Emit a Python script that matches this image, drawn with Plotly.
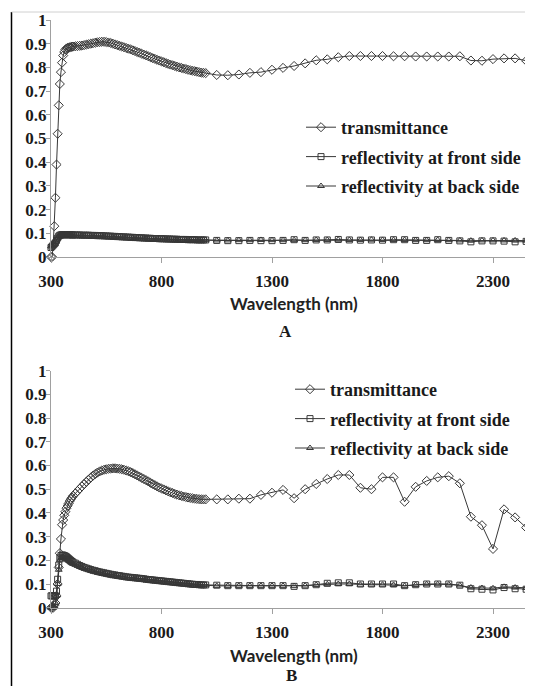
import plotly.graph_objects as go

# ---------------- data ----------------
# wavelength grid (nm): dense UV-Vis part then NIR part every 50 nm
wavelength = list(range(300, 401, 5)) + list(range(410, 1000, 10)) + list(range(1000, 2501, 50))

# Panel A
trans_A = [
    0.00, 0.00, 0.05, 0.13, 0.25, 0.39, 0.52, 0.64, 0.73, 0.78, 0.82, 0.85, 0.865, 0.875, 0.88, 0.882, 0.884, 0.885, 0.886, 0.887, 0.888,
    0.889, 0.890, 0.891, 0.892, 0.894, 0.896, 0.898, 0.900, 0.902, 0.904, 0.906, 0.907, 0.908, 0.908, 0.907, 0.905, 0.903, 0.900, 0.897, 0.894,
    0.891, 0.888, 0.885, 0.882, 0.879, 0.876, 0.872, 0.869, 0.865, 0.862, 0.858, 0.854, 0.851, 0.847, 0.843, 0.839, 0.836, 0.832, 0.829, 0.825,
    0.822, 0.818, 0.815, 0.812, 0.809, 0.806, 0.803, 0.800, 0.798, 0.795, 0.793, 0.790, 0.788, 0.786, 0.784, 0.782, 0.780, 0.778, 0.777,
    0.776, 0.768, 0.767, 0.770, 0.777, 0.780, 0.790, 0.798, 0.806, 0.817, 0.830, 0.834, 0.843, 0.848, 0.848, 0.848, 0.848, 0.847, 0.847, 0.846,
    0.846, 0.846, 0.846, 0.847, 0.829, 0.828, 0.835, 0.838, 0.838, 0.828, 0.825,
]
front_A = [
    0.040, 0.045, 0.050, 0.055, 0.060, 0.070, 0.080, 0.088, 0.092, 0.093, 0.094, 0.094, 0.094, 0.094, 0.094, 0.094, 0.094, 0.094, 0.094, 0.093, 0.093,
    0.093, 0.093, 0.093, 0.092, 0.092, 0.092, 0.092, 0.091, 0.091, 0.091, 0.090, 0.090, 0.090, 0.089, 0.089, 0.088, 0.088, 0.087, 0.087, 0.086,
    0.086, 0.085, 0.085, 0.084, 0.084, 0.083, 0.083, 0.082, 0.082, 0.081, 0.081, 0.080, 0.080, 0.079, 0.079, 0.078, 0.078, 0.078, 0.077, 0.077,
    0.077, 0.076, 0.076, 0.076, 0.075, 0.075, 0.075, 0.074, 0.074, 0.074, 0.074, 0.073, 0.073, 0.073, 0.073, 0.072, 0.072, 0.072, 0.072,
    0.072, 0.070, 0.069, 0.069, 0.070, 0.069, 0.069, 0.070, 0.073, 0.070, 0.072, 0.072, 0.074, 0.072, 0.071, 0.072, 0.071, 0.073, 0.073, 0.070,
    0.070, 0.073, 0.070, 0.068, 0.064, 0.068, 0.068, 0.067, 0.064, 0.066, 0.066,
]
back_A = [
    0.045, 0.048, 0.052, 0.058, 0.065, 0.074, 0.082, 0.088, 0.090, 0.091, 0.091, 0.091, 0.091, 0.091, 0.091, 0.091, 0.091, 0.091, 0.091, 0.090, 0.090,
    0.090, 0.090, 0.090, 0.089, 0.089, 0.089, 0.089, 0.088, 0.088, 0.088, 0.087, 0.087, 0.087, 0.086, 0.086, 0.085, 0.085, 0.084, 0.084, 0.083,
    0.083, 0.082, 0.082, 0.081, 0.081, 0.080, 0.080, 0.079, 0.079, 0.078, 0.078, 0.077, 0.077, 0.076, 0.076, 0.075, 0.075, 0.075, 0.074, 0.074,
    0.074, 0.073, 0.073, 0.073, 0.073, 0.072, 0.072, 0.072, 0.072, 0.071, 0.071, 0.071, 0.071, 0.071, 0.071, 0.071, 0.071, 0.071, 0.071,
    0.071, 0.070, 0.070, 0.071, 0.071, 0.072, 0.071, 0.071, 0.071, 0.071, 0.072, 0.072, 0.073, 0.072, 0.072, 0.073, 0.072, 0.072, 0.072, 0.071,
    0.071, 0.072, 0.071, 0.070, 0.069, 0.070, 0.070, 0.070, 0.070, 0.069, 0.068,
]

# Panel B
trans_B = [
    0.00, 0.00, 0.00, 0.01, 0.02, 0.05, 0.10, 0.17, 0.23, 0.29, 0.35, 0.37, 0.39, 0.405, 0.42, 0.43, 0.44, 0.45, 0.458, 0.465, 0.472,
    0.482, 0.492, 0.502, 0.512, 0.522, 0.531, 0.540, 0.549, 0.557, 0.564, 0.570, 0.575, 0.579, 0.582, 0.584, 0.586, 0.587, 0.588, 0.588, 0.587,
    0.586, 0.584, 0.582, 0.579, 0.576, 0.572, 0.568, 0.563, 0.558, 0.553, 0.548, 0.543, 0.538, 0.533, 0.527, 0.522, 0.517, 0.512, 0.507, 0.503,
    0.499, 0.495, 0.491, 0.487, 0.484, 0.480, 0.477, 0.474, 0.472, 0.469, 0.467, 0.465, 0.463, 0.462, 0.460, 0.459, 0.458, 0.457, 0.457,
    0.457, 0.457, 0.457, 0.460, 0.460, 0.476, 0.485, 0.497, 0.462, 0.500, 0.522, 0.543, 0.560, 0.560, 0.506, 0.500, 0.550, 0.550, 0.447, 0.510,
    0.535, 0.550, 0.555, 0.525, 0.384, 0.348, 0.248, 0.415, 0.381, 0.338, 0.310,
]
front_B = [
    0.050, 0.050, 0.050, 0.050, 0.050, 0.070, 0.120, 0.180, 0.210, 0.220, 0.222, 0.222, 0.220, 0.218, 0.215, 0.211, 0.207, 0.203, 0.199, 0.195, 0.192,
    0.188, 0.183, 0.178, 0.174, 0.170, 0.167, 0.164, 0.161, 0.158, 0.156, 0.153, 0.151, 0.149, 0.147, 0.145, 0.143, 0.141, 0.139, 0.138, 0.136,
    0.135, 0.133, 0.132, 0.130, 0.129, 0.128, 0.127, 0.126, 0.125, 0.124, 0.123, 0.122, 0.120, 0.119, 0.118, 0.117, 0.116, 0.115, 0.114, 0.113,
    0.112, 0.111, 0.110, 0.109, 0.108, 0.107, 0.106, 0.105, 0.104, 0.103, 0.102, 0.101, 0.100, 0.099, 0.098, 0.098, 0.097, 0.096, 0.096,
    0.096, 0.095, 0.093, 0.093, 0.093, 0.093, 0.093, 0.093, 0.090, 0.093, 0.097, 0.103, 0.105, 0.105, 0.100, 0.100, 0.100, 0.100, 0.093, 0.097,
    0.100, 0.100, 0.100, 0.095, 0.080, 0.078, 0.075, 0.085, 0.080, 0.078, 0.078,
]
back_B = [
    0.000, 0.000, 0.000, 0.005, 0.020, 0.050, 0.100, 0.160, 0.200, 0.210, 0.212, 0.212, 0.210, 0.208, 0.205, 0.202, 0.198, 0.195, 0.191, 0.188, 0.185,
    0.181, 0.177, 0.173, 0.169, 0.166, 0.163, 0.160, 0.157, 0.154, 0.152, 0.149, 0.147, 0.145, 0.143, 0.141, 0.139, 0.137, 0.136, 0.134, 0.133,
    0.131, 0.130, 0.129, 0.127, 0.126, 0.125, 0.124, 0.123, 0.122, 0.121, 0.120, 0.119, 0.118, 0.117, 0.116, 0.115, 0.114, 0.113, 0.112, 0.111,
    0.110, 0.109, 0.108, 0.107, 0.106, 0.105, 0.104, 0.104, 0.103, 0.102, 0.101, 0.100, 0.099, 0.098, 0.098, 0.097, 0.096, 0.096, 0.095,
    0.095, 0.092, 0.092, 0.092, 0.092, 0.092, 0.092, 0.092, 0.091, 0.093, 0.096, 0.099, 0.100, 0.100, 0.097, 0.097, 0.097, 0.096, 0.092, 0.096,
    0.099, 0.099, 0.098, 0.094, 0.085, 0.083, 0.082, 0.088, 0.085, 0.083, 0.082,
]

series_names = ["transmittance", "reflectivity at front side", "reflectivity at back side"]
symbols = ["diamond-open", "square-open", "triangle-up-open"]
marker_sizes = [7, 6, 6]
x_ticks = [300, 800, 1300, 1800, 2300]

# ---------------- figure ----------------
PAGE_W, PAGE_H = 533, 686
OFF = 8                      # default body margin of the html page
W, H = PAGE_W - OFF, PAGE_H - OFF

def px(x):                   # page pixel -> paper fraction
    return (x - OFF) / W
def py(y):
    return 1 - (y - OFF) / H

ink = "#383838"
fig = go.Figure()

panels = [
    ("x", "y", "legend", "a", [trans_A, front_A, back_A]),
    ("x2", "y2", "legend2", "b", [trans_B, front_B, back_B]),
]
for xa, ya, leg, tag, data in panels:
    for i, (name, vals) in enumerate(zip(series_names, data)):
        fig.add_trace(go.Scatter(
            x=wavelength, y=vals, name=name, mode="lines+markers",
            xaxis=xa, yaxis=ya, legend=leg, legendgroup=f"{tag}{i}",
            line=dict(color=ink, width=1),
            marker=dict(symbol=symbols[i], size=marker_sizes[i], color=ink,
                        line=dict(color=ink, width=1)),
            cliponaxis=False,
        ))

tick_font = dict(family="Liberation Serif", size=17, color="#1a1a1a", weight="bold")
axis_gray = "#a0a0a0"
x_range = [300, 300 + (PAGE_W - 51) / ((493 - 51) / 2000)]

common_x = dict(range=x_range, tickvals=x_ticks, showgrid=False, zeroline=False,
                showline=True, linecolor=axis_gray, linewidth=1,
                ticks="outside", ticklen=5, tickcolor=axis_gray,
                tickfont=tick_font, ticklabelstandoff=4, domain=[px(51), 1.0],
                automargin=False)
common_y = dict(range=[0, 1], dtick=0.1, tick0=0, showgrid=False, zeroline=False,
                showline=True, linecolor=axis_gray, linewidth=1,
                ticks="outside", ticklen=4, tickcolor=axis_gray,
                tickfont=tick_font, ticklabelstandoff=-4, automargin=False)

legend_common = dict(font=dict(family="Liberation Serif", size=18, color="#1a1a1a", weight="bold"),
                     bgcolor="rgba(0,0,0,0)", borderwidth=0, traceorder="grouped",
                     tracegroupgap=3, xanchor="left", yanchor="top", itemwidth=30)

fig.update_layout(
    width=W, height=H, margin=dict(l=0, r=0, t=0, b=0, pad=0, autoexpand=False),
    paper_bgcolor="white", plot_bgcolor="white",
    xaxis=dict(**common_x, anchor="y"),
    yaxis=dict(**common_y, anchor="x", domain=[py(257), py(20)]),
    xaxis2=dict(**common_x, anchor="y2"),
    yaxis2=dict(**common_y, anchor="x2", domain=[py(607.7), py(370.7)]),
    legend=dict(**legend_common, x=px(301), y=py(109)),
    legend2=dict(**legend_common, x=px(290), y=py(371)),
    showlegend=True,
)

title_font = dict(family="Lato", size=17, color="#222222", weight="bold")
label_font = dict(family="Liberation Serif", size=17, color="#1a1a1a", weight="bold")
fig.add_annotation(text="Wavelength (nm)", x=px(294), y=py(303), xref="paper", yref="paper",
                   showarrow=False, font=title_font, xanchor="center", yanchor="middle")
fig.add_annotation(text="A", x=px(285), y=py(331), xref="paper", yref="paper",
                   showarrow=False, font=label_font, xanchor="center", yanchor="middle")
fig.add_annotation(text="Wavelength (nm)", x=px(294), y=py(655), xref="paper", yref="paper",
                   showarrow=False, font=title_font, xanchor="center", yanchor="middle")
fig.add_annotation(text="B", x=px(291), y=py(675), xref="paper", yref="paper",
                   showarrow=False, font=label_font, xanchor="center", yanchor="middle")

# frame lines of the original figure
fig.add_shape(type="line", xref="paper", yref="paper", x0=px(11.5), x1=px(11.5), y0=py(12), y1=0,
              line=dict(color="#000000", width=1.5))
fig.add_shape(type="line", xref="paper", yref="paper", x0=px(11.5), x1=1, y0=py(12), y1=py(12),
              line=dict(color="#d0d0d0", width=1))

fig.write_html("out.html")
